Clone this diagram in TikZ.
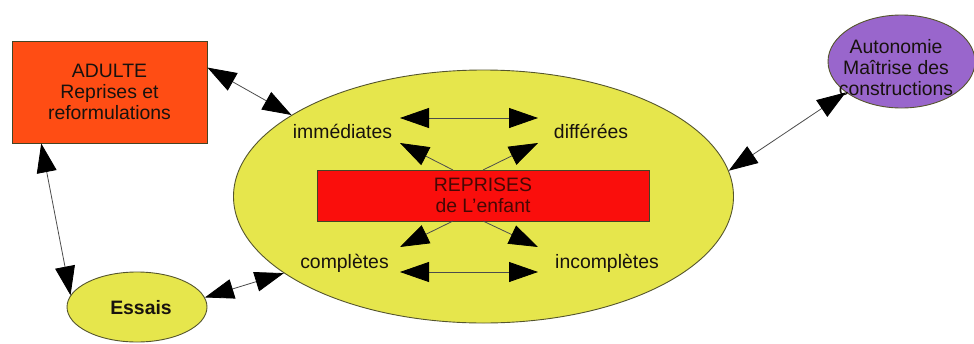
\documentclass[tikz,border=0pt]{standalone}
\usepackage{fontspec}
\setmainfont{Liberation Sans}
\usetikzlibrary{arrows.meta,shapes.geometric}

\definecolor{adultefill}{RGB}{255,77,20}
\definecolor{jaune}{RGB}{230,230,76}
\definecolor{rouge}{RGB}{250,14,12}
\definecolor{violet}{RGB}{153,102,204}
\definecolor{contour}{RGB}{85,85,45}
\definecolor{texte}{RGB}{24,18,14}
\definecolor{texterouge}{RGB}{70,8,4}

\tikzset{
  every node/.style={font=\fontsize{19.4}{21}\selectfont, text=texte, align=center},
  boite/.style={draw=contour!80!black, line width=0.9pt, inner sep=0pt},
  bulle/.style={ellipse, draw=contour, line width=0.9pt, inner sep=0pt},
  etiquette/.style={anchor=base},
  pointe/.style={Triangle[length=29pt,width=20pt,fill=black,color=black]},
  fleche/.style={draw=black!70, line width=0.8pt},
  bi/.style={fleche, {Triangle[length=29pt,width=20pt,color=black]}-{Triangle[length=29pt,width=20pt,color=black]}},
  uni/.style={fleche, -{Triangle[length=29pt,width=20pt,color=black]}}
}

\begin{document}
\begin{tikzpicture}[x=1pt, y=-1pt]
\useasboundingbox (0,0) rectangle (974,343);

% central ellipse and the child's repetitions
\node[bulle, fill=jaune, minimum width=500pt, minimum height=253pt] (centre) at (483.5,196.5) {};
\node[boite, fill=rouge, minimum width=332pt, minimum height=51pt, text=texterouge] (reprises) at (483,195.5) {REPRISES\\de L'enfant};

% adult box
\node[boite, fill=adultefill, minimum width=195pt, minimum height=102pt] (adulte) at (109.5,92) {ADULTE\\Reprises et\\reformulations};

% attempts
\node[bulle, fill=jaune, minimum width=140pt, minimum height=70pt] (essais) at (137,307) {};
\node[font=\fontsize{19.4}{21}\selectfont\bfseries] (essaistxt) at (141,308) {Essais};

% autonomy
\node[bulle, fill=violet, minimum width=147pt, minimum height=93pt] (autonomie) at (901.5,61.5) {};
\node (autotxt) at (896,67.5) {Autonomie\\Maîtrise des\\constructions};

% kinds of repetitions
\node[etiquette] (imm) at (342.5,138) {immédiates};
\node[etiquette] (diff) at (591,138) {différées};
\node[etiquette] (compl) at (344.5,268) {complètes};
\node[etiquette] (incompl) at (607,268) {incomplètes};

% arrow ends inside the central ellipse
\coordinate (hautG) at (400,118);
\coordinate (hautD) at (538,118);
\coordinate (basG) at (400,272);
\coordinate (basD) at (538,272);
\coordinate (diagHG) at (400,143);
\coordinate (diagHD) at (538,143);
\coordinate (diagBG) at (400,247);
\coordinate (diagBD) at (538,247);
\coordinate (repHG) at (453,170);
\coordinate (repHD) at (483,170);
\coordinate (repBG) at (453,221);
\coordinate (repBD) at (483,221);

\draw[bi] (hautG) -- (hautD);
\draw[bi] (basG) -- (basD);
\draw[uni] (repHG) -- (diagHG);
\draw[uni] (repHD) -- (diagHD);
\draw[uni] (repBG) -- (diagBG);
\draw[uni] (repBD) -- (diagBD);

% links between the main elements
\draw[bi] (adulte.14) -- (centre.157.3);
\draw[bi] (adulte.217.3) -- (essais.170);
\draw[bi] (essais.8) -- (centre.201.1);
\draw[bi] (autonomie.209.2) -- (centre.6.1);
\end{tikzpicture}
\end{document}
